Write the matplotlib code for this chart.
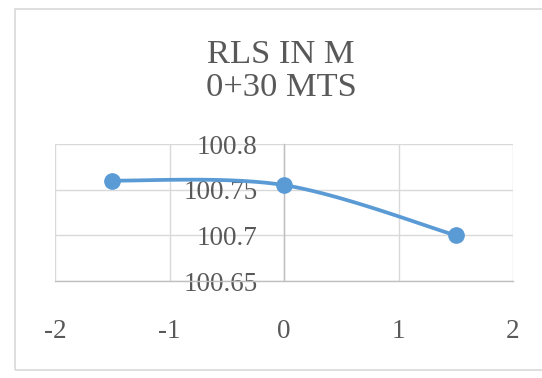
import numpy as np
import matplotlib
matplotlib.use("Agg")
import matplotlib.pyplot as plt
from matplotlib.patches import Rectangle

# Offsets and reduced levels
offsets = [-1.5, 0.0, 1.5]
levels = [100.76, 100.755, 100.70]
x_ticks = [-2, -1, 0, 1, 2]
y_ticks = [100.65, 100.7, 100.75, 100.8]
y_tick_labels = ["100.65", "100.7", "100.75", "100.8"]
title = "RLS IN M\n0+30 MTS"

LINE = "#5b9bd5"
TEXT = "#595959"
GRID = "#d9d9d9"
AXIS = "#bfbfbf"
FONT = "Liberation Serif"


def smooth_curve(xs, ys, n=60):
    """Cubic Bezier smoothing through the points (Catmull-Rom style)."""
    p = np.column_stack([xs, ys]).astype(float)
    ext = np.vstack([p[0], p, p[-1]])
    out = []
    for i in range(len(p) - 1):
        p0, p1, p2, p3 = ext[i], ext[i + 1], ext[i + 2], ext[i + 3]
        c1 = p1 + (p2 - p0) / 6.0
        c2 = p2 - (p3 - p1) / 6.0
        t = np.linspace(0, 1, n)[:, None]
        seg = ((1 - t) ** 3) * p1 + 3 * ((1 - t) ** 2) * t * c1 \
            + 3 * (1 - t) * t ** 2 * c2 + t ** 3 * p2
        out.append(seg if i == 0 else seg[1:])
    pts = np.vstack(out)
    return pts[:, 0], pts[:, 1]


W, H = 542, 378
fig = plt.figure(figsize=(W / 100, H / 100), dpi=100)

# chart border
fig.patches.append(Rectangle((15 / W, (H - 370) / H), (W + 10 - 15) / W, (370 - 9) / H,
                             transform=fig.transFigure, fill=False,
                             edgecolor=GRID, linewidth=1.2, zorder=0))

left, right, top, bottom = 55, 513, 144, 281
ax = fig.add_axes([left / W, (H - bottom) / H, (right - left) / W, (bottom - top) / H])
ax.set_xlim(-2, 2)
ax.set_ylim(100.65, 100.8)

ax.set_xticks(x_ticks)
ax.set_xticklabels([str(v) for v in x_ticks])
ax.set_yticks(y_ticks)
ax.set_yticklabels(y_tick_labels)

ax.grid(True, color=GRID, linewidth=1.0)
ax.set_axisbelow(True)
for s in ("top", "right"):
    ax.spines[s].set_visible(False)
ax.spines["left"].set_position(("data", 0))
ax.spines["left"].set_color(AXIS)
ax.spines["bottom"].set_color(AXIS)
ax.spines["left"].set_linewidth(1.0)
ax.spines["bottom"].set_linewidth(1.0)

ax.tick_params(axis="both", length=0, colors=TEXT, labelsize=19.5)
ax.tick_params(axis="y", pad=19)
ax.tick_params(axis="x", pad=27)
for lab in ax.get_xticklabels() + ax.get_yticklabels():
    lab.set_fontfamily(FONT)
    lab.set_color(TEXT)

sx, sy = smooth_curve(offsets, levels)
ax.plot(sx, sy, color=LINE, linewidth=2.7, solid_capstyle="round", zorder=3, clip_on=False)
ax.plot(offsets, levels, linestyle="none", marker="o", markersize=11,
        color=LINE, zorder=4, clip_on=False)

fig.text(281 / W, 1 - 71 / H, title, ha="center", va="center", fontsize=24.8,
         family=FONT, color=TEXT, linespacing=1.12)

fig.savefig("out.png", dpi=100)
